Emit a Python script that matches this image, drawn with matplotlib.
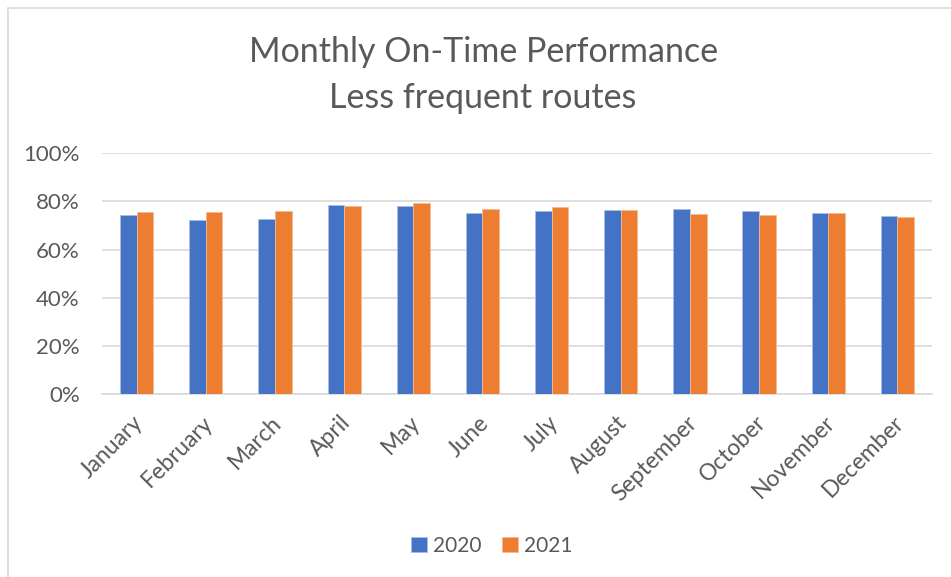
import numpy as np
import matplotlib.pyplot as plt
from matplotlib.patches import Rectangle
from matplotlib.ticker import PercentFormatter
from matplotlib.transforms import ScaledTranslation

plt.rcParams['font.family'] = ['Lato', 'DejaVu Sans']

months = ['January', 'February', 'March', 'April', 'May', 'June',
          'July', 'August', 'September', 'October', 'November', 'December']
otp_2020 = [74.3, 72.2, 72.5, 78.6, 78.3, 75.4, 76.1, 76.4, 76.8, 76.1, 75.4, 73.8]
otp_2021 = [75.5, 75.5, 76.2, 78.0, 79.3, 76.9, 77.5, 76.4, 74.7, 74.2, 75.3, 73.4]
series_names = ['2020', '2021']

text_color = '#595959'
grid_color = '#D9D9D9'

fig = plt.figure(figsize=(9.51, 5.77), dpi=100)
ax = fig.add_axes([0.1073, 0.3172, 0.8727, 0.4171])

# chart frame (left and top edges visible, rest cut off like the screenshot)
fig.patches.append(Rectangle((8 / 951, -0.1), 1.2, 1 - 8 / 577 + 0.1,
                             transform=fig.transFigure, fill=False,
                             edgecolor='#D9D9D9', linewidth=1.2))

x = np.arange(len(months))
w = 0.24
ax.bar(x - w / 2, otp_2020, w, color='#4472C4', edgecolor='#A9BDE5',
       linewidth=0.6, label=series_names[0], zorder=3)
ax.bar(x + w / 2, otp_2021, w, color='#ED7D31', edgecolor='#F5B994',
       linewidth=0.6, label=series_names[1], zorder=3)

ax.set_xlim(-0.5, len(months) - 0.5)
ax.set_ylim(0, 100)
ax.set_yticks(np.arange(0, 101, 20))
ax.yaxis.set_major_formatter(PercentFormatter(decimals=0))
ax.grid(axis='y', color=grid_color, linewidth=1.2, zorder=0)
for side in ['top', 'right', 'left']:
    ax.spines[side].set_visible(False)
ax.spines['bottom'].set_color(grid_color)
ax.spines['bottom'].set_linewidth(1.2)

ax.set_xticks(x)
ax.set_xticklabels(months, rotation=45, ha='right', rotation_mode='anchor')
ax.tick_params(axis='x', length=0, colors=text_color, labelsize=16.5, pad=13)
ax.tick_params(axis='y', length=0, colors=text_color, labelsize=16, pad=16)
shift = ScaledTranslation(-3 / 72, 0, fig.dpi_scale_trans)
for lbl in ax.get_xticklabels():
    lbl.set_transform(lbl.get_transform() + shift)

fig.text(0.508, 1 - 52 / 577, 'Monthly On-Time Performance', ha='center', va='center',
         fontsize=24.5, color=text_color)
fig.text(0.508, 1 - 98 / 577, 'Less frequent routes', ha='center', va='center',
         fontsize=24.5, color=text_color)

fig.legend(loc='center', bbox_to_anchor=(492 / 951, 1 - 546 / 577), ncol=2,
           frameon=False, fontsize=15, labelcolor=text_color,
           handlelength=0.75, handleheight=0.75, handletextpad=0.3, columnspacing=1.0)

fig.savefig('out.png', dpi=100)
